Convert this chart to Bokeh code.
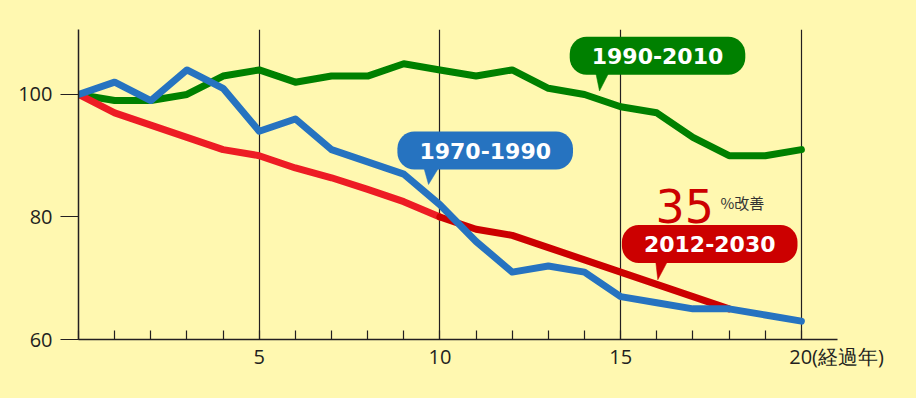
from bokeh.plotting import figure
from bokeh.models import FixedTicker, Label, Range1d, GlobalInlineStyleSheet
from bokeh.embed import file_html
from bokeh.resources import INLINE

# ---------------- data ----------------
years = list(range(21))
s1970_1990 = [100, 102, 99, 104, 101, 94, 96, 91, 89, 87, 82, 76, 71, 72, 71, 67, 66, 65, 65, 64, 63]
s1990_2010 = [100, 99, 99, 100, 103, 104, 102, 103, 103, 105, 104, 103, 104, 101, 100, 98, 97, 93, 90, 90, 91]
years_2012 = list(range(19))
s2012_2030 = [100, 97, 95, 93, 91, 90, 88, 86.4, 84.5, 82.5, 80, 78, 77, 75, 73, 71, 69, 67, 65]
split_year = 10  # actual (bright red) up to here, projection (dark red) after

x_ticks = [5, 10, 15, 20]
y_ticks = [60, 80, 100]
x_unit_label = "(経過年)"
improvement = "35"
improvement_unit = "%改善"
series_names = ["1970-1990", "1990-2010", "2012-2030"]

# ---------------- style ----------------
BG = "#FFF8B0"
INK = "#231F20"
BLUE = "#2673C0"
GREEN = "#008000"
RED = "#ED1C24"
DARKRED = "#CC0000"
FONT = "DejaVu Sans"
TICKFONT = "Open Sans"
CJK = "Noto Sans CJK JP"

W, H = 900, 382
p = figure(width=W, height=H, output_backend="svg", toolbar_location=None,
           x_range=Range1d(0, 21), y_range=Range1d(60, 110.6),
           min_border_left=78, min_border_right=W - 837, min_border_top=29, min_border_bottom=H - 339)
p.stylesheets = [GlobalInlineStyleSheet(css=f"body {{ background: {BG}; }}")]
p.background_fill_color = BG
p.border_fill_color = BG
p.outline_line_color = None

# axes
p.xaxis.ticker = FixedTicker(ticks=x_ticks, minor_ticks=years)
p.xaxis.axis_line_color = INK
p.xaxis.axis_line_width = 1.5
p.xaxis.major_tick_line_color = None
p.xaxis.minor_tick_in = 9
p.xaxis.minor_tick_out = 0
p.xaxis.minor_tick_line_color = INK
p.xaxis.minor_tick_line_width = 1.2
p.xaxis.major_label_text_font = TICKFONT
p.xaxis.major_label_text_font_size = "20px"
p.xaxis.major_label_text_color = INK
p.xaxis.major_label_standoff = -3
# last tick carries the unit; leading ideographic/nbsp padding keeps "20" centred on its tick
pad = "\u3000\u3000\u3000\u00a0\u00a0"
p.xaxis.major_label_overrides = {x_ticks[-1]: pad + str(x_ticks[-1]) + x_unit_label}

p.yaxis.ticker = FixedTicker(ticks=y_ticks, minor_ticks=[])
p.yaxis.axis_line_color = INK
p.yaxis.axis_line_width = 1.5
p.yaxis.major_tick_in = 0
p.yaxis.major_tick_out = 18
p.yaxis.major_tick_line_color = INK
p.yaxis.major_tick_line_width = 1.2
p.yaxis.minor_tick_line_color = None
p.yaxis.major_label_text_font = TICKFONT
p.yaxis.major_label_text_font_size = "20px"
p.yaxis.major_label_text_color = INK
p.yaxis.major_label_standoff = 8

p.xgrid.ticker = FixedTicker(ticks=x_ticks)
p.xgrid.grid_line_color = INK
p.xgrid.grid_line_width = 1.2
p.ygrid.grid_line_color = None

# lines
lw = 7
p.line(years, s1990_2010, line_color=GREEN, line_width=lw, line_join="round", line_cap="round")
n = years_2012.index(split_year) + 1
p.line(years_2012[:n], s2012_2030[:n], line_color=RED, line_width=lw, line_join="round", line_cap="round")
p.line(years_2012[n - 1:], s2012_2030[n - 1:], line_color=DARKRED, line_width=lw, line_join="round", line_cap="round")
p.line(years, s1970_1990, line_color=BLUE, line_width=lw, line_join="round", line_cap="round")

# ---------------- callouts (positions in page pixels -> data) ----------------
FX0, FXS = 78.0, 759.0 / 21.0
FY60, FYS = 339.0, 310.0 / 50.6


def dx(px):
    return (px - FX0) / FXS


def dy(py):
    return 60 + (FY60 - py) / FYS


callouts = [
    # name, color, box center (px), triangle base x0, x1, base y, tip (px)
    (series_names[0], BLUE, (484.7, 150.0), (423, 439, 166), (428, 184)),
    (series_names[1], GREEN, (657.0, 55.2), (595, 609, 71), (599, 90.5)),
    (series_names[2], DARKRED, (709.2, 243.5), (655, 668, 259), (657.3, 279.3)),
]
for name, col, (cx, cy), (bx0, bx1, by), (tx, ty) in callouts:
    p.patch([dx(bx0), dx(bx1), dx(tx)], [dy(by), dy(by), dy(ty)],
            fill_color=col, line_color=col, line_width=0.5)
    p.add_layout(Label(x=dx(cx), y=dy(cy), text=name, text_align="center", text_baseline="middle",
                       text_color="white", text_font=FONT, text_font_size="22px",
                       text_font_style="bold",
                       background_fill_color=col, border_radius=17, padding=(22, 11)))

p.add_layout(Label(x=dx(655), y=dy(205), text=improvement, text_align="left",
                   text_baseline="alphabetic", text_color=DARKRED, text_font=FONT,
                   text_font_size="46px"))
p.add_layout(Label(x=dx(720), y=dy(202), text=improvement_unit, text_align="left",
                   text_baseline="alphabetic", text_color="#333333", text_font=CJK,
                   text_font_size="15px"))

open("out.html", "w").write(file_html(p, INLINE))
